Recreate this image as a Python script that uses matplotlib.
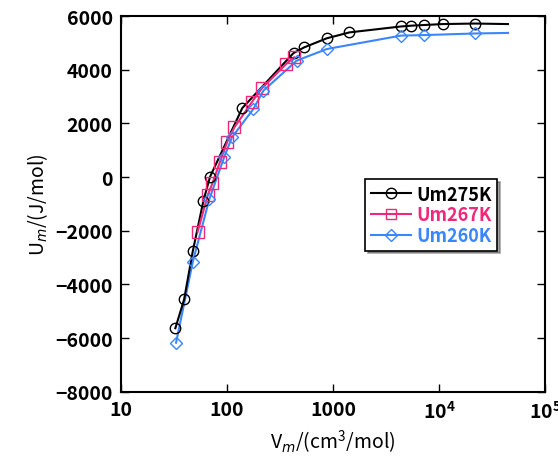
import matplotlib
matplotlib.use("Agg")
import matplotlib.pyplot as plt
from matplotlib.ticker import FixedLocator, FixedFormatter

plt.rcParams['font.family'] = ['Noto Sans CJK JP', 'DejaVu Sans']
plt.rcParams['mathtext.fontset'] = 'custom'
plt.rcParams['mathtext.rm'] = 'Noto Sans CJK JP'
plt.rcParams['mathtext.bf'] = 'Noto Sans CJK JP:bold'

# Um275K
v275 = [32.5, 39.3, 47.4, 59.8, 69.0, 139, 423, 532, 871, 1425, 4350, 5450, 7210, 10800, 21900]
u275 = [-5630, -4560, -2770, -880, 10, 2570, 4620, 4830, 5170, 5390, 5610, 5640, 5665, 5700, 5720]
v275_end = 44600
u275_end = 5700

# Um267K
v267 = [52.8, 65.8, 72.7, 85.9, 100, 117, 171, 212, 360, 429]
u267 = [-2030, -660, -230, 580, 1300, 1850, 2790, 3300, 4210, 4460]

# Um260K
v260 = [33.0, 47.5, 68.0, 93.8, 111, 177, 220, 454, 871, 4350, 7210, 21900]
u260 = [-6170, -3150, -820, 740, 1480, 2540, 3220, 4340, 4770, 5270, 5290, 5350]
v260_end = 44600
u260_end = 5370

labels = ['Um275K', 'Um267K', 'Um260K']
colors = ['black', '#f0287a', '#3a86ff']

xticks = [10, 100, 1000, 1e4, 1e5]
xticklabels = ['10', '100', '1000', r'$\mathbf{10^4}$', r'$\mathbf{10^5}$']
yticks = [-8000, -6000, -4000, -2000, 0, 2000, 4000, 6000]

fig = plt.figure(figsize=(5.58, 4.60), dpi=100)
ax = fig.add_axes([0.217, 0.146, 0.760, 0.817])

ax.plot(v275 + [v275_end], u275 + [u275_end], color=colors[0], lw=1.5, zorder=3)
ax.plot(v275, u275, ls='none', marker='o', ms=7.5, mfc='none', mec=colors[0], mew=1.0, zorder=4)
ax.plot(v267, u267, color=colors[1], lw=1.5, zorder=3)
ax.plot(v267, u267, ls='none', marker='s', ms=8, mfc='none', mec=colors[1], mew=1.0, zorder=4)
ax.plot(v260 + [v260_end], u260 + [u260_end], color=colors[2], lw=1.5, zorder=2)
ax.plot(v260, u260, ls='none', marker='D', ms=6, mfc='none', mec=colors[2], mew=1.0, zorder=4)

# legend handles
h1, = ax.plot([], [], color=colors[0], lw=1.5, marker='o', ms=7.5, mfc='none', mec=colors[0])
h2, = ax.plot([], [], color=colors[1], lw=1.5, marker='s', ms=7.5, mfc='none', mec=colors[1])
h3, = ax.plot([], [], color=colors[2], lw=1.5, marker='D', ms=6, mfc='none', mec=colors[2])

ax.set_xscale('log')
ax.set_xlim(10, 1e5)
ax.set_ylim(-8000, 6000)
ax.xaxis.set_major_locator(FixedLocator(xticks))
ax.xaxis.set_major_formatter(FixedFormatter(xticklabels))
ax.xaxis.set_minor_locator(FixedLocator([]))
ax.set_yticks(yticks)
ax.set_yticklabels([str(t).replace('-', '\u2212') for t in yticks])
ax.tick_params(direction='in', top=True, right=True, length=6, width=1.0,
               labelsize=14, pad=6)
for lab in ax.get_xticklabels() + ax.get_yticklabels():
    lab.set_fontweight('bold')
for s in ax.spines.values():
    s.set_linewidth(1.5)

ax.set_xlabel('V$_m$/(cm$^3$/mol)', fontsize=14)
ax.set_ylabel('U$_m$/(J/mol)', fontsize=14)

leg = ax.legend([h1, h2, h3], labels, loc='upper left', bbox_to_anchor=(0.555, 0.59),
                fontsize=13, frameon=True, fancybox=False, shadow=True,
                handlelength=2.2, handletextpad=0.3, borderpad=0.3, labelspacing=0.1)
leg.get_frame().set_edgecolor('black')
leg.get_frame().set_linewidth(1.2)
for t, c in zip(leg.get_texts(), colors):
    t.set_color(c)
    t.set_fontweight('bold')

fig.savefig('out.png', dpi=100)
